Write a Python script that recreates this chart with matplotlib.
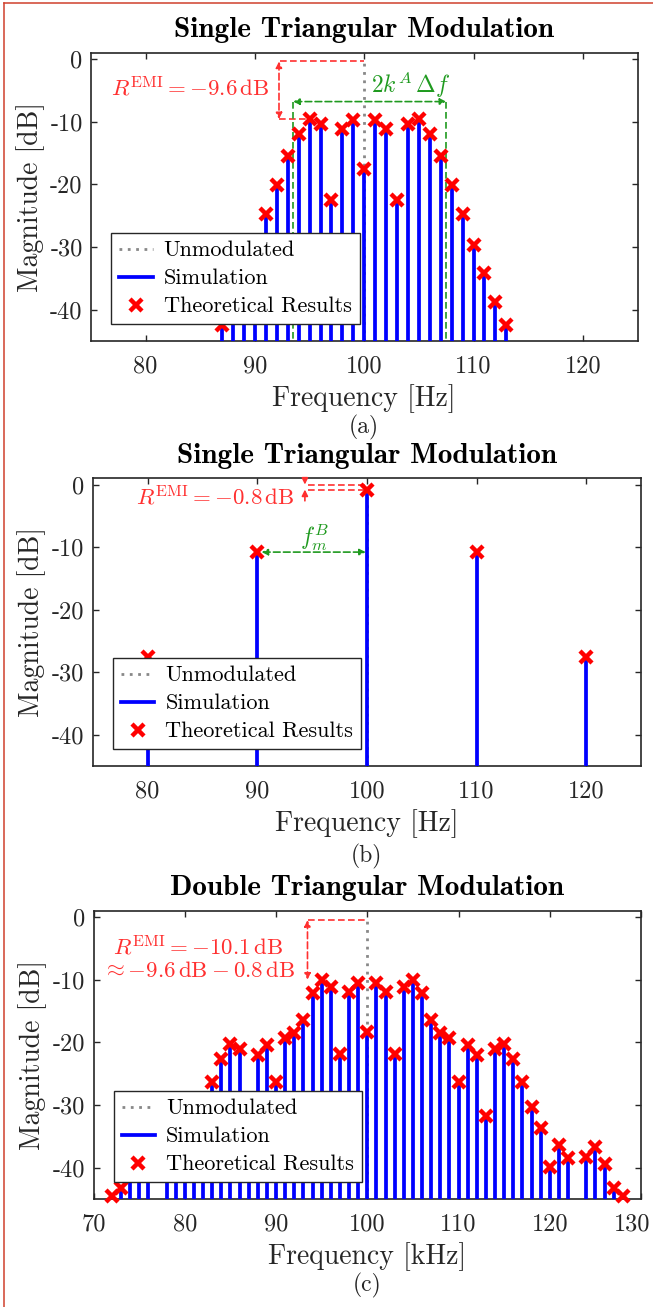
import matplotlib
matplotlib.use('Agg')
import matplotlib.pyplot as plt
import matplotlib.transforms as mtransforms
from matplotlib.lines import Line2D

plt.rcParams['font.family'] = 'serif'
plt.rcParams['font.serif'] = ['cmr10']
plt.rcParams['mathtext.fontset'] = 'cm'
plt.rcParams['axes.unicode_minus'] = False
plt.rcParams['axes.formatter.use_mathtext'] = False

# panel (a): single triangular modulation, 1 Hz spacing
freq_a = list(range(87, 114))
theory_a = [-42.4, -38.8, -34.1, -29.7, -24.8, -20.1, -15.5, -11.9, -9.5, -10.4,
            -22.5, -11.2, -9.7, -17.5, -9.7, -11.2, -22.5, -10.4, -9.5, -11.9,
            -15.5, -20.1, -24.8, -29.7, -34.1, -38.8, -42.4]
sim_a = list(theory_a)  # stems end on the markers

# panel (b): 10 Hz spacing
freq_b = [80, 90, 100, 110, 120]
theory_b = [-27.6, -10.8, -0.8, -10.8, -27.6]
sim_b = list(theory_b)

# panel (c): double triangular modulation (77 and 123 kHz fall below the axis)
freq_c = [72, 73, 74, 75, 76, 78, 79, 80, 81, 82, 83, 84, 85, 86, 87, 88, 89, 90,
          91, 92, 93, 94, 95, 96, 97, 98, 99, 100, 101, 102, 103, 104, 105, 106,
          107, 108, 109, 110, 111, 112, 113, 114, 115, 116, 117, 118, 119, 120,
          121, 122, 124, 125, 126, 127, 128]
theory_c = [-44.6, -43.3, -39.4, -36.7, -38.3, -38.5, -36.4, -39.9, -33.7, -30.3,
            -26.3, -22.7, -20.3, -21.1, -31.8, -22.1, -20.5, -26.4, -19.3, -18.5,
            -16.4, -12.2, -10.1, -11.1, -21.8, -12.0, -10.6, -18.4, -10.6, -12.0,
            -21.8, -11.1, -10.1, -12.2, -16.4, -18.5, -19.3, -26.4, -20.5, -22.1,
            -31.8, -21.1, -20.3, -22.7, -26.3, -30.3, -33.7, -39.9, -36.4, -38.5,
            -38.3, -36.7, -39.4, -43.3, -44.6]
sim_c = list(theory_c)

yticks = [0, -10, -20, -30, -40]
ylim = (-45, 1)

RED = '#ff3030'
GREEN = '#1f9a1f'
AXC = '#262626'

W, H = 653, 1307
fig = plt.figure(figsize=(W / 100, H / 100), dpi=100)


def px_axes(left, right, top, bottom):
    return fig.add_axes([left / W, 1 - bottom / H, (right - left) / W, (bottom - top) / H])


def draw_panel(ax, freqs, sim, theory, xlim, xticks, title, xlabel, tag):
    ax.vlines([100], ylim[0], 0, colors='#888888', linestyles=(0, (1, 2)), lw=2.0,
              zorder=2)
    ax.vlines(freqs, ylim[0], sim, colors='#0000ff', lw=2.7, zorder=3)
    ax.plot(freqs, theory, 'x', color='#ff0000', ms=9, mew=3.2, ls='none',
            zorder=4, clip_on=False)
    ax.set_xlim(*xlim)
    ax.set_ylim(*ylim)
    ax.set_xticks(xticks)
    ax.set_yticks(yticks)
    ax.tick_params(direction='in', length=4.5, width=1.0, colors=AXC, labelcolor=AXC,
                   labelsize=17.5, top=True, right=True, pad=6)
    ax.tick_params(axis='x', pad=10)
    for s in ax.spines.values():
        s.set_color(AXC)
        s.set_linewidth(1.2)
    ax.set_title(title, fontfamily='cmb10', fontsize=21, pad=11, color='black')
    ax.set_xlabel(xlabel, fontsize=20, color=AXC, labelpad=5)
    ax.set_ylabel('Magnitude [dB]', fontsize=20, color=AXC, labelpad=4)
    handles = [Line2D([], [], color='#888888', ls=(0, (1, 2)), lw=2.0),
               Line2D([], [], color='#0000ff', lw=2.7),
               Line2D([], [], color='#ff0000', marker='x', ls='none', ms=9, mew=3.2)]
    leg = ax.legend(handles, ['Unmodulated', 'Simulation', 'Theoretical Results'],
                    loc='lower left', bbox_to_anchor=(0.037, 0.058), fontsize=16,
                    fancybox=False, framealpha=1, edgecolor=AXC, borderpad=0.36,
                    labelspacing=0.38, handlelength=1.5, handletextpad=0.5,
                    borderaxespad=0)
    leg.get_frame().set_linewidth(1.0)
    leg.set_zorder(10)
    pos = ax.get_position()
    fig.text((pos.x0 + pos.x1) / 2, 1 - tag[1] / H, tag[0], ha='center', va='center',
             fontsize=17, color=AXC)


def darrow(ax, p0, p1, color):
    ax.annotate('', xy=p1, xytext=p0,
                arrowprops=dict(arrowstyle='<|-|>', color=color, lw=1.2, ls=(0, (4, 2)),
                                shrinkA=0, shrinkB=0, mutation_scale=9))


def head(ax, p0, p1, color):
    ax.annotate('', xy=p1, xytext=p0,
                arrowprops=dict(arrowstyle='-|>', color=color, lw=1.2,
                                shrinkA=0, shrinkB=0, mutation_scale=9))


# (a)
ax1 = px_axes(91, 637.5, 52.7, 341)
draw_panel(ax1, freq_a, sim_a, theory_a, (75, 125), [80, 90, 100, 110, 120],
           'Single Triangular Modulation', 'Frequency [Hz]', ('(a)', 427))
ax1.plot([92.3, 100], [-0.4, -0.4], color=RED, lw=1.2, ls=(0, (4, 2)))
ax1.plot([92.2, 95], [-9.6, -9.6], color=RED, lw=1.2, ls=(0, (4, 2)))
darrow(ax1, (92.2, -0.4), (92.2, -9.6), RED)
ax1.text(91.3, -4.6, r'$R^{\mathrm{EMI}} = -9.6\,\mathrm{dB}$', color=RED,
         fontsize=16.5, ha='right', va='center')
ax1.plot([93.5, 93.5], [-6.8, -45], color=GREEN, lw=1.2, ls=(0, (4, 2)))
ax1.plot([107.5, 107.5], [-6.8, -45], color=GREEN, lw=1.2, ls=(0, (4, 2)))
darrow(ax1, (93.5, -6.8), (107.5, -6.8), GREEN)
ax1.text(100.6, -4.1, r'$2k^A\,\Delta f$', color=GREEN, fontsize=17, ha='left', va='center')

# (b)
ax2 = px_axes(92.7, 641, 478.3, 766)
draw_panel(ax2, freq_b, sim_b, theory_b, (75, 125), [80, 90, 100, 110, 120],
           'Single Triangular Modulation', 'Frequency [Hz]', ('(b)', 856))
ax2.plot([94.6, 100], [0, 0], color=RED, lw=1.2, ls=(0, (4, 2)))
ax2.plot([94.6, 100], [-0.8, -0.8], color=RED, lw=1.2, ls=(0, (4, 2)))
head(ax2, (94.35, 1.0), (94.35, 0), RED)
head(ax2, (94.35, -2.6), (94.35, -0.8), RED)
ax2.text(93.4, -2.0, r'$R^{\mathrm{EMI}} = -0.8\,\mathrm{dB}$', color=RED,
         fontsize=16.5, ha='right', va='center')
darrow(ax2, (90.4, -10.8), (99.9, -10.8), GREEN)
ax2.text(95.2, -8.4, r'$f_m^B$', color=GREEN, fontsize=17, ha='center', va='center')

# (c)
ax3 = px_axes(93.5, 641, 910.7, 1199)
draw_panel(ax3, freq_c, sim_c, theory_c, (70, 130), [70, 80, 90, 100, 110, 120, 130],
           'Double Triangular Modulation', 'Frequency [kHz]', ('(c)', 1285))
ax3.plot([93.5, 100], [-0.5, -0.5], color=RED, lw=1.2, ls=(0, (4, 2)))
darrow(ax3, (93.45, -0.5), (93.45, -10.0), RED)
ax3.text(81.5, -6.5, '$R^{\\mathrm{EMI}} = -10.1\\,\\mathrm{dB}$\n'
         '$\\approx {-}9.6\\,\\mathrm{dB} - 0.8\\,\\mathrm{dB}$', color=RED,
         fontsize=16.5, ha='center', va='center', linespacing=1.15)
# the last label sits shifted left inside the page, as in the original
last = ax3.get_xticklabels()[-1]
last.set_transform(last.get_transform() +
                   mtransforms.ScaledTranslation(-9 / 100, 0, fig.dpi_scale_trans))

# page frame visible at the left and top of the crop
fig.add_artist(Line2D([4.3 / W, 4.3 / W], [0, 1 - 2.7 / H], color='#d0402c', lw=1.1))
fig.add_artist(Line2D([4.3 / W, 1], [1 - 2.7 / H, 1 - 2.7 / H], color='#d0402c', lw=1.1))

fig.savefig('out.png', dpi=100)
